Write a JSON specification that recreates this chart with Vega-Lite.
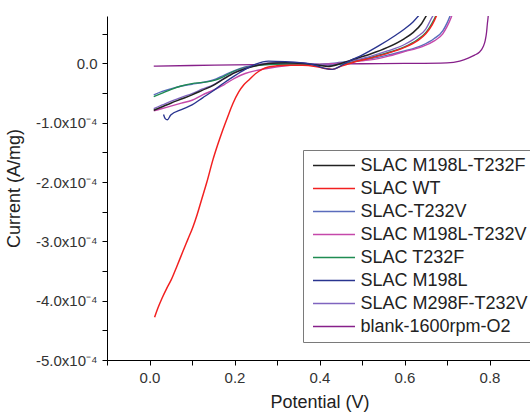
{
  "$schema": "https://vega.github.io/schema/vega-lite/v6.json",
  "width": 425,
  "height": 344,
  "autosize": {"type": "none"},
  "padding": {"left": 107, "top": 16, "right": 0, "bottom": 56},
  "config": {
    "font": "Liberation Sans",
    "view": {"stroke": null},
    "axis": {"grid": false, "domainColor": "#000", "tickColor": "#000", "tickSize": 5, "labelFontSize": 15, "labelColor": "#333", "titleFontSize": 18, "titleFontWeight": "normal", "titleColor": "#222", "labelPadding": 4}
  },
  "data": {"values": [
    {"s":"blank-1600rpm-O2","x":0.01,"y":-0.045e-4},{"s":"blank-1600rpm-O2","x":0.1,"y":-0.035e-4},{"s":"blank-1600rpm-O2","x":0.2,"y":-0.025e-4},{"s":"blank-1600rpm-O2","x":0.3,"y":-0.015e-4},{"s":"blank-1600rpm-O2","x":0.4,"y":-0.01e-4},{"s":"blank-1600rpm-O2","x":0.5,"y":-0.005e-4},{"s":"blank-1600rpm-O2","x":0.6,"y":0.0},{"s":"blank-1600rpm-O2","x":0.7,"y":0.01e-4},{"s":"blank-1600rpm-O2","x":0.73,"y":0.04e-4},{"s":"blank-1600rpm-O2","x":0.75,"y":0.09e-4},{"s":"blank-1600rpm-O2","x":0.765,"y":0.14e-4},{"s":"blank-1600rpm-O2","x":0.776,"y":0.19e-4},{"s":"blank-1600rpm-O2","x":0.785,"y":0.28e-4},{"s":"blank-1600rpm-O2","x":0.79,"y":0.39e-4},{"s":"blank-1600rpm-O2","x":0.793,"y":0.52e-4},{"s":"blank-1600rpm-O2","x":0.795,"y":0.67e-4},{"s":"blank-1600rpm-O2","x":0.797,"y":0.8e-4},{"s":"blank-1600rpm-O2","x":0.798,"y":0.9e-4},

    {"s":"SLAC-T232V","x":0.01,"y":-0.53e-4},{"s":"SLAC-T232V","x":0.03,"y":-0.47e-4},{"s":"SLAC-T232V","x":0.05,"y":-0.43e-4},{"s":"SLAC-T232V","x":0.075,"y":-0.38e-4},{"s":"SLAC-T232V","x":0.1,"y":-0.35e-4},{"s":"SLAC-T232V","x":0.125,"y":-0.32e-4},{"s":"SLAC-T232V","x":0.15,"y":-0.28e-4},{"s":"SLAC-T232V","x":0.175,"y":-0.2e-4},{"s":"SLAC-T232V","x":0.2,"y":-0.12e-4},{"s":"SLAC-T232V","x":0.225,"y":-0.06e-4},{"s":"SLAC-T232V","x":0.25,"y":-0.03e-4},{"s":"SLAC-T232V","x":0.28,"y":-0.01e-4},{"s":"SLAC-T232V","x":0.32,"y":0.0},{"s":"SLAC-T232V","x":0.36,"y":0.0},{"s":"SLAC-T232V","x":0.4,"y":-0.02e-4},{"s":"SLAC-T232V","x":0.44,"y":0.01e-4},{"s":"SLAC-T232V","x":0.48,"y":0.04e-4},{"s":"SLAC-T232V","x":0.52,"y":0.08e-4},{"s":"SLAC-T232V","x":0.56,"y":0.14e-4},{"s":"SLAC-T232V","x":0.6,"y":0.21e-4},{"s":"SLAC-T232V","x":0.64,"y":0.3e-4},{"s":"SLAC-T232V","x":0.67,"y":0.42e-4},{"s":"SLAC-T232V","x":0.69,"y":0.55e-4},{"s":"SLAC-T232V","x":0.7,"y":0.68e-4},{"s":"SLAC-T232V","x":0.71,"y":0.85e-4},

    {"s":"SLAC M198L-T232V","x":0.01,"y":-0.8e-4},{"s":"SLAC M198L-T232V","x":0.03,"y":-0.76e-4},{"s":"SLAC M198L-T232V","x":0.05,"y":-0.72e-4},{"s":"SLAC M198L-T232V","x":0.075,"y":-0.67e-4},{"s":"SLAC M198L-T232V","x":0.1,"y":-0.62e-4},{"s":"SLAC M198L-T232V","x":0.125,"y":-0.53e-4},{"s":"SLAC M198L-T232V","x":0.15,"y":-0.45e-4},{"s":"SLAC M198L-T232V","x":0.175,"y":-0.36e-4},{"s":"SLAC M198L-T232V","x":0.2,"y":-0.25e-4},{"s":"SLAC M198L-T232V","x":0.225,"y":-0.17e-4},{"s":"SLAC M198L-T232V","x":0.25,"y":-0.12e-4},{"s":"SLAC M198L-T232V","x":0.28,"y":-0.08e-4},{"s":"SLAC M198L-T232V","x":0.32,"y":-0.04e-4},{"s":"SLAC M198L-T232V","x":0.36,"y":-0.02e-4},{"s":"SLAC M198L-T232V","x":0.4,"y":-0.02e-4},{"s":"SLAC M198L-T232V","x":0.44,"y":0.0},{"s":"SLAC M198L-T232V","x":0.48,"y":0.03e-4},{"s":"SLAC M198L-T232V","x":0.52,"y":0.06e-4},{"s":"SLAC M198L-T232V","x":0.56,"y":0.12e-4},{"s":"SLAC M198L-T232V","x":0.6,"y":0.2e-4},{"s":"SLAC M198L-T232V","x":0.64,"y":0.28e-4},{"s":"SLAC M198L-T232V","x":0.67,"y":0.38e-4},{"s":"SLAC M198L-T232V","x":0.69,"y":0.5e-4},{"s":"SLAC M198L-T232V","x":0.7,"y":0.62e-4},{"s":"SLAC M198L-T232V","x":0.71,"y":0.78e-4},{"s":"SLAC M198L-T232V","x":0.715,"y":0.88e-4},

    {"s":"SLAC T232F","x":0.01,"y":-0.56e-4},{"s":"SLAC T232F","x":0.03,"y":-0.5e-4},{"s":"SLAC T232F","x":0.05,"y":-0.44e-4},{"s":"SLAC T232F","x":0.075,"y":-0.38e-4},{"s":"SLAC T232F","x":0.1,"y":-0.34e-4},{"s":"SLAC T232F","x":0.125,"y":-0.32e-4},{"s":"SLAC T232F","x":0.15,"y":-0.29e-4},{"s":"SLAC T232F","x":0.175,"y":-0.22e-4},{"s":"SLAC T232F","x":0.2,"y":-0.13e-4},{"s":"SLAC T232F","x":0.225,"y":-0.07e-4},{"s":"SLAC T232F","x":0.25,"y":-0.04e-4},{"s":"SLAC T232F","x":0.28,"y":-0.02e-4},{"s":"SLAC T232F","x":0.32,"y":-0.01e-4},{"s":"SLAC T232F","x":0.36,"y":-0.01e-4},{"s":"SLAC T232F","x":0.4,"y":-0.03e-4},{"s":"SLAC T232F","x":0.42,"y":-0.04e-4},{"s":"SLAC T232F","x":0.45,"y":-0.01e-4},{"s":"SLAC T232F","x":0.48,"y":0.03e-4},{"s":"SLAC T232F","x":0.52,"y":0.1e-4},{"s":"SLAC T232F","x":0.56,"y":0.18e-4},{"s":"SLAC T232F","x":0.6,"y":0.28e-4},{"s":"SLAC T232F","x":0.63,"y":0.4e-4},{"s":"SLAC T232F","x":0.65,"y":0.52e-4},{"s":"SLAC T232F","x":0.67,"y":0.75e-4},{"s":"SLAC T232F","x":0.68,"y":0.9e-4},

    {"s":"SLAC M298F-T232V","x":0.01,"y":-0.76e-4},{"s":"SLAC M298F-T232V","x":0.03,"y":-0.7e-4},{"s":"SLAC M298F-T232V","x":0.05,"y":-0.64e-4},{"s":"SLAC M298F-T232V","x":0.075,"y":-0.57e-4},{"s":"SLAC M298F-T232V","x":0.1,"y":-0.51e-4},{"s":"SLAC M298F-T232V","x":0.125,"y":-0.43e-4},{"s":"SLAC M298F-T232V","x":0.15,"y":-0.36e-4},{"s":"SLAC M298F-T232V","x":0.175,"y":-0.25e-4},{"s":"SLAC M298F-T232V","x":0.2,"y":-0.15e-4},{"s":"SLAC M298F-T232V","x":0.225,"y":-0.08e-4},{"s":"SLAC M298F-T232V","x":0.25,"y":-0.03e-4},{"s":"SLAC M298F-T232V","x":0.28,"y":0.01e-4},{"s":"SLAC M298F-T232V","x":0.32,"y":0.02e-4},{"s":"SLAC M298F-T232V","x":0.36,"y":0.01e-4},{"s":"SLAC M298F-T232V","x":0.4,"y":-0.02e-4},{"s":"SLAC M298F-T232V","x":0.42,"y":-0.03e-4},{"s":"SLAC M298F-T232V","x":0.45,"y":0.0},{"s":"SLAC M298F-T232V","x":0.48,"y":0.05e-4},{"s":"SLAC M298F-T232V","x":0.52,"y":0.12e-4},{"s":"SLAC M298F-T232V","x":0.56,"y":0.21e-4},{"s":"SLAC M298F-T232V","x":0.6,"y":0.32e-4},{"s":"SLAC M298F-T232V","x":0.63,"y":0.45e-4},{"s":"SLAC M298F-T232V","x":0.65,"y":0.58e-4},{"s":"SLAC M298F-T232V","x":0.665,"y":0.78e-4},{"s":"SLAC M298F-T232V","x":0.675,"y":0.9e-4},

    {"s":"SLAC M198L-T232F","x":0.01,"y":-0.79e-4},{"s":"SLAC M198L-T232F","x":0.03,"y":-0.73e-4},{"s":"SLAC M198L-T232F","x":0.05,"y":-0.67e-4},{"s":"SLAC M198L-T232F","x":0.075,"y":-0.6e-4},{"s":"SLAC M198L-T232F","x":0.1,"y":-0.53e-4},{"s":"SLAC M198L-T232F","x":0.125,"y":-0.45e-4},{"s":"SLAC M198L-T232F","x":0.15,"y":-0.37e-4},{"s":"SLAC M198L-T232F","x":0.175,"y":-0.26e-4},{"s":"SLAC M198L-T232F","x":0.2,"y":-0.16e-4},{"s":"SLAC M198L-T232F","x":0.225,"y":-0.09e-4},{"s":"SLAC M198L-T232F","x":0.25,"y":-0.04e-4},{"s":"SLAC M198L-T232F","x":0.28,"y":0.0},{"s":"SLAC M198L-T232F","x":0.32,"y":0.01e-4},{"s":"SLAC M198L-T232F","x":0.36,"y":0.0},{"s":"SLAC M198L-T232F","x":0.4,"y":-0.03e-4},{"s":"SLAC M198L-T232F","x":0.42,"y":-0.05e-4},{"s":"SLAC M198L-T232F","x":0.45,"y":0.0},{"s":"SLAC M198L-T232F","x":0.48,"y":0.07e-4},{"s":"SLAC M198L-T232F","x":0.52,"y":0.16e-4},{"s":"SLAC M198L-T232F","x":0.56,"y":0.27e-4},{"s":"SLAC M198L-T232F","x":0.6,"y":0.42e-4},{"s":"SLAC M198L-T232F","x":0.62,"y":0.52e-4},{"s":"SLAC M198L-T232F","x":0.64,"y":0.67e-4},{"s":"SLAC M198L-T232F","x":0.65,"y":0.79e-4},{"s":"SLAC M198L-T232F","x":0.66,"y":0.9e-4},

    {"s":"SLAC WT","x":0.012,"y":-4.28e-4},{"s":"SLAC WT","x":0.02,"y":-4.12e-4},{"s":"SLAC WT","x":0.03,"y":-3.95e-4},{"s":"SLAC WT","x":0.04,"y":-3.8e-4},{"s":"SLAC WT","x":0.051,"y":-3.65e-4},{"s":"SLAC WT","x":0.065,"y":-3.41e-4},{"s":"SLAC WT","x":0.078,"y":-3.18e-4},{"s":"SLAC WT","x":0.09,"y":-2.97e-4},{"s":"SLAC WT","x":0.102,"y":-2.76e-4},{"s":"SLAC WT","x":0.112,"y":-2.55e-4},{"s":"SLAC WT","x":0.122,"y":-2.31e-4},{"s":"SLAC WT","x":0.135,"y":-2.0e-4},{"s":"SLAC WT","x":0.149,"y":-1.63e-4},{"s":"SLAC WT","x":0.16,"y":-1.38e-4},{"s":"SLAC WT","x":0.172,"y":-1.13e-4},{"s":"SLAC WT","x":0.185,"y":-0.88e-4},{"s":"SLAC WT","x":0.196,"y":-0.68e-4},{"s":"SLAC WT","x":0.21,"y":-0.48e-4},{"s":"SLAC WT","x":0.222,"y":-0.36e-4},{"s":"SLAC WT","x":0.235,"y":-0.27e-4},{"s":"SLAC WT","x":0.25,"y":-0.17e-4},{"s":"SLAC WT","x":0.265,"y":-0.1e-4},{"s":"SLAC WT","x":0.28,"y":-0.06e-4},{"s":"SLAC WT","x":0.3,"y":-0.04e-4},{"s":"SLAC WT","x":0.33,"y":-0.03e-4},{"s":"SLAC WT","x":0.36,"y":-0.03e-4},{"s":"SLAC WT","x":0.39,"y":-0.05e-4},{"s":"SLAC WT","x":0.41,"y":-0.08e-4},{"s":"SLAC WT","x":0.43,"y":-0.1e-4},{"s":"SLAC WT","x":0.45,"y":-0.05e-4},{"s":"SLAC WT","x":0.48,"y":0.02e-4},{"s":"SLAC WT","x":0.52,"y":0.09e-4},{"s":"SLAC WT","x":0.56,"y":0.17e-4},{"s":"SLAC WT","x":0.6,"y":0.27e-4},{"s":"SLAC WT","x":0.63,"y":0.38e-4},{"s":"SLAC WT","x":0.65,"y":0.5e-4},{"s":"SLAC WT","x":0.665,"y":0.65e-4},{"s":"SLAC WT","x":0.675,"y":0.8e-4},{"s":"SLAC WT","x":0.68,"y":0.9e-4},

    {"s":"SLAC M198L","x":0.033,"y":-0.86e-4},{"s":"SLAC M198L","x":0.037,"y":-0.93e-4},{"s":"SLAC M198L","x":0.042,"y":-0.95e-4},{"s":"SLAC M198L","x":0.05,"y":-0.87e-4},{"s":"SLAC M198L","x":0.075,"y":-0.78e-4},{"s":"SLAC M198L","x":0.1,"y":-0.7e-4},{"s":"SLAC M198L","x":0.125,"y":-0.58e-4},{"s":"SLAC M198L","x":0.15,"y":-0.46e-4},{"s":"SLAC M198L","x":0.175,"y":-0.33e-4},{"s":"SLAC M198L","x":0.2,"y":-0.21e-4},{"s":"SLAC M198L","x":0.225,"y":-0.1e-4},{"s":"SLAC M198L","x":0.25,"y":-0.01e-4},{"s":"SLAC M198L","x":0.28,"y":0.04e-4},{"s":"SLAC M198L","x":0.32,"y":0.03e-4},{"s":"SLAC M198L","x":0.36,"y":0.01e-4},{"s":"SLAC M198L","x":0.39,"y":-0.03e-4},{"s":"SLAC M198L","x":0.41,"y":-0.08e-4},{"s":"SLAC M198L","x":0.43,"y":-0.1e-4},{"s":"SLAC M198L","x":0.45,"y":-0.04e-4},{"s":"SLAC M198L","x":0.47,"y":0.04e-4},{"s":"SLAC M198L","x":0.5,"y":0.14e-4},{"s":"SLAC M198L","x":0.54,"y":0.3e-4},{"s":"SLAC M198L","x":0.58,"y":0.48e-4},{"s":"SLAC M198L","x":0.6,"y":0.58e-4},{"s":"SLAC M198L","x":0.62,"y":0.7e-4},{"s":"SLAC M198L","x":0.635,"y":0.82e-4}
  ]},
  "mark": {"type": "line", "clip": true, "interpolate": "monotone"},
  "encoding": {
    "x": {
      "field": "x", "type": "quantitative",
      "scale": {"domain": [-0.1, 0.9], "nice": false, "zero": false},
      "axis": {
        "title": "Potential (V)",
        "values": [-0.1, 0.0, 0.1, 0.2, 0.3, 0.4, 0.5, 0.6, 0.7, 0.8, 0.9],
        "labelExpr": "abs(datum.value*10 - 2*round(datum.value*5)) > 0.5 ? '' : format(datum.value, '.1f')",
        "labelPadding": 5,
        "titlePadding": 8,
        "labelFlush": false
      }
    },
    "y": {
      "field": "y", "type": "quantitative",
      "scale": {"domain": [-5.0e-4, 0.8e-4], "nice": false, "zero": false},
      "axis": {
        "title": "Current (A/mg)",
        "values": [-5.0e-4, -4.5e-4, -4.0e-4, -3.5e-4, -3.0e-4, -2.5e-4, -2.0e-4, -1.5e-4, -1.0e-4, -0.5e-4, 0.0, 0.5e-4],
        "labelExpr": "abs(datum.value*1e4 - round(datum.value*1e4)) > 0.25 ? '' : (abs(datum.value*1e4) < 0.01 ? '0.0' : ((datum.value < 0 ? '-' : '') + format(abs(round(datum.value*1e4)), '.1f') + 'x10⁻⁴'))",
        "labelPadding": 5,
        "titlePadding": 12,
        "labelFlush": false
      }
    },
    "color": {
      "field": "s", "type": "nominal",
      "scale": {
        "domain": ["SLAC M198L-T232F", "SLAC WT", "SLAC-T232V", "SLAC M198L-T232V", "SLAC T232F", "SLAC M198L", "SLAC M298F-T232V", "blank-1600rpm-O2"],
        "range": ["#222222", "#f22020", "#5a6cbc", "#c548aa", "#1f8c52", "#29348f", "#7f64bf", "#87208a"]
      },
      "legend": {
        "title": null,
        "orient": "none",
        "legendX": 196,
        "legendY": 134,
        "strokeColor": "#7a7a7a",
        "fillColor": "#ffffff",
        "padding": 6,
        "symbolType": "M-2.5,0H2.5",
        "symbolSize": 282,
        "symbolStrokeWidth": 1.5,
        "symbolOffset": 15.5,
        "labelOffset": 17,
        "labelFontSize": 18,
        "labelColor": "#222",
        "labelLimit": 400,
        "rowPadding": 4.0
      }
    },
    "strokeWidth": {
      "field": "s", "type": "nominal",
      "scale": {
        "domain": ["SLAC M198L-T232F", "SLAC WT", "SLAC-T232V", "SLAC M198L-T232V", "SLAC T232F", "SLAC M198L", "SLAC M298F-T232V", "blank-1600rpm-O2"],
        "range": [1.5, 1.3, 2, 2, 2.2, 3.2, 2.5, 1.5]
      },
      "legend": null
    },
    "order": {"value": 0}
  }
}
